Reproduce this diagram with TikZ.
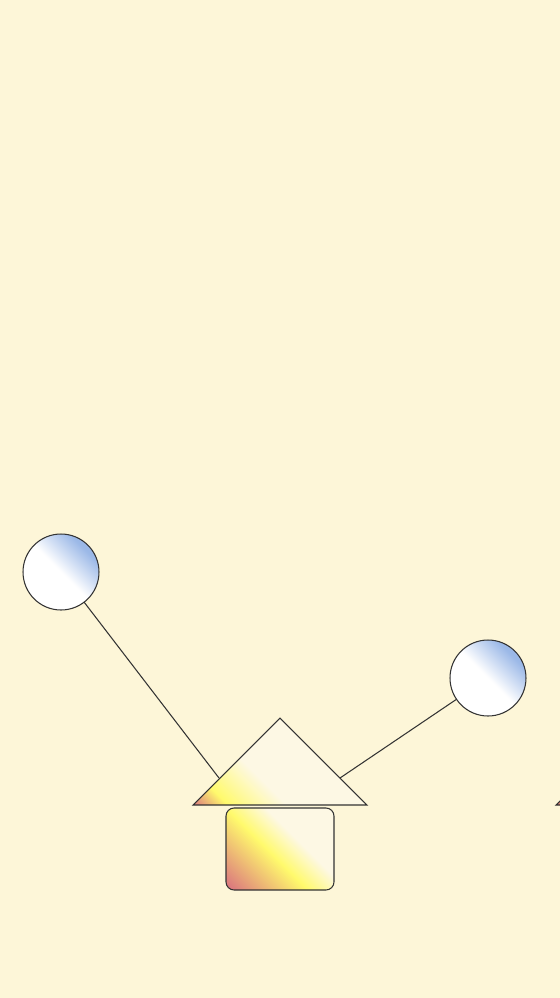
\documentclass[tikz,border=0pt]{standalone}
\usepackage{tikz}
\usetikzlibrary{positioning}

\definecolor{paper}{HTML}{FDF6D8}
\definecolor{cream}{HTML}{FDF8E4}
\definecolor{ballblue}{HTML}{9BB8E7}
\definecolor{roofpink}{HTML}{D9707F}
\definecolor{roofyellow}{HTML}{FFFA6C}
\definecolor{inkgray}{HTML}{333333}

\pgfdeclarehorizontalshading{ballshade}{100bp}{color(0bp)=(white); color(50bp)=(white);
  color(72bp)=(ballblue); color(100bp)=(ballblue)}
\pgfdeclarehorizontalshading{roofshade}{100bp}{color(0bp)=(roofpink); color(14bp)=(roofpink);
  color(24bp)=(roofyellow); color(40bp)=(cream); color(100bp)=(cream)}
\pgfdeclarehorizontalshading{wallshade}{100bp}{color(0bp)=(roofpink); color(15bp)=(roofpink);
  color(45bp)=(roofyellow); color(60bp)=(cream); color(100bp)=(cream)}

\begin{document}
\begin{tikzpicture}[x=0.02cm, y=-0.02cm,
      every node/.style={inner sep=0pt, outer sep=0pt},
      ball/.style={circle, draw=inkgray, line width=0.6pt, minimum size=1.52cm,
                   shading=ballshade, shading angle=45},
      wall/.style={draw=inkgray, line width=0.6pt, rounded corners=0.16cm,
                   minimum width=2.16cm, minimum height=1.64cm,
                   shading=wallshade, shading angle=45},
      roof/.style={draw=inkgray, line width=0.6pt, shading=roofshade, shading angle=45},
      wire/.style={draw=inkgray, line width=0.6pt},
  ]
    %% --- page and background ---
    \useasboundingbox (0,0) rectangle (560,998);
    \fill[paper] (0,0) rectangle (560,998);

    %% --- the two balls ---
    \node[ball] (leftball)  at (61,572)  {};
    \node[ball] (rightball) at (488,678) {};

    %% --- wire ends on the roof edges ---
    \coordinate (roofwest) at (219,778);
    \coordinate (roofeast) at (340,778);

    \draw[wire] (leftball)  -- (roofwest);
    \draw[wire] (rightball) -- (roofeast);

    %% --- house: roof and wall ---
    \path[roof] (193,805) -- (280,718) -- (367,805) -- cycle;
    \node[wall] (wall) at (280,849) {};

    %% --- second roof, cut off by the right edge ---
    \begin{scope}
      \clip (0,0) rectangle (560,998);
      \path[roof] (556,805) -- (643,718) -- (730,805) -- cycle;
    \end{scope}
\end{tikzpicture}
\end{document}
